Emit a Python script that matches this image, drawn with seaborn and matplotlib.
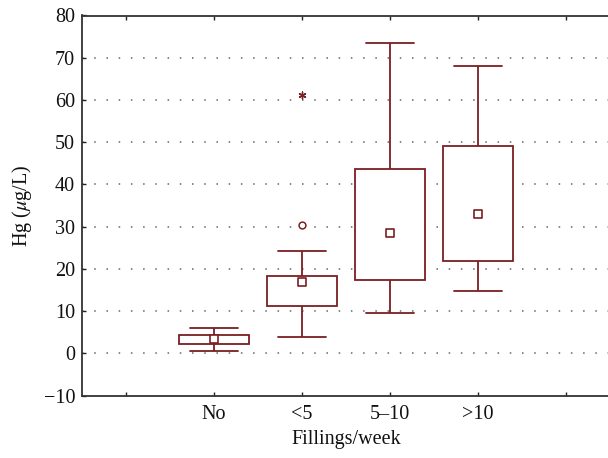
import numpy as np
import pandas as pd
import matplotlib
matplotlib.use("Agg")
import matplotlib.pyplot as plt
import seaborn as sns

# five-number summaries (whisker low, Q1, median, Q3, whisker high)
groups = ["No", "<5", "5–10", ">10"]
whisker_low = [0.6, 4.0, 9.5, 14.9]
q1 = [2.25, 11.3, 17.5, 21.9]
median = [3.4, 16.8, 28.6, 33.0]
q3 = [4.45, 18.3, 43.7, 49.1]
whisker_high = [6.0, 24.3, 73.5, 68.0]

# outliers (circle) and extremes (star), only in the "<5" group
outlier_group = ["<5"]
outlier_value = [30.3]
extreme_group = ["<5"]
extreme_value = [61.2]

y_ticks = [-10, 0, 10, 20, 30, 40, 50, 60, 70, 80]
order = ["pad_l"] + groups + ["pad_r"]
x_labels = [""] + groups + [""]

color = "#7B1F24"

rows = []
for i, g in enumerate(groups):
    for v in (whisker_low[i], q1[i], median[i], q3[i], whisker_high[i]):
        rows.append({"group": g, "hg": v})
df = pd.DataFrame(rows)
med_df = pd.DataFrame({"group": groups, "hg": median})

sns.set_style("ticks")
plt.rcParams["font.family"] = ["Liberation Serif", "DejaVu Serif"]
plt.rcParams["mathtext.fontset"] = "stix"

fig = plt.figure(figsize=(6.08, 4.58), dpi=100)
ax = fig.add_axes([82 / 608, 62.3 / 458, 528 / 608, 380.2 / 458])

# dotted horizontal grid under the boxes
for y in y_ticks[1:-1]:
    ax.axhline(y, color="#666666", lw=1.1, ls=(8, (1, 7)), zorder=0)

sns.boxplot(data=df, x="group", y="hg", order=order, whis=(0, 100),
            width=0.8, showfliers=False, fill=True, color="white",
            linecolor=color, linewidth=1.3, capwidths=0.55,
            medianprops={"linewidth": 0}, ax=ax, zorder=2)

sns.scatterplot(data=med_df, x="group", y="hg", marker="s", s=26,
                facecolor="white", edgecolor=color, linewidth=1.2,
                ax=ax, zorder=4, legend=False)
ax.scatter([order.index(g) for g in outlier_group], outlier_value,
           marker="o", s=24, facecolor="white", edgecolor=color,
           linewidth=1.1, zorder=4)
ax.scatter([order.index(g) for g in extreme_group], extreme_value,
           marker=(6, 2, 0), s=24, color=color, linewidth=1.0, zorder=4)

ax.set_xlim(-0.5, 5.5)
ax.set_ylim(-10, 80)
ax.set_yticks(y_ticks)
ax.set_yticklabels([str(t).replace("-", "\u2212") for t in y_ticks])
ax.set_xticks(range(len(order)))
ax.set_xticklabels(x_labels)
ax.tick_params(axis="both", direction="in", length=3, width=1,
               labelsize=14.5, colors="#222222", labelcolor="#111111")
ax.tick_params(axis="x", top=True, pad=7)
ax.tick_params(axis="y", pad=5)

for side in ["left", "bottom", "top"]:
    ax.spines[side].set_color("#333333")
    ax.spines[side].set_linewidth(1.3)
ax.spines["right"].set_visible(False)

ax.set_xlabel("Fillings/week", fontsize=14.5, labelpad=4, color="#111111")
ax.set_ylabel(r"Hg ($\mu$g/L)", fontsize=14.5, labelpad=7, color="#111111")

fig.savefig("out.png", dpi=100)
